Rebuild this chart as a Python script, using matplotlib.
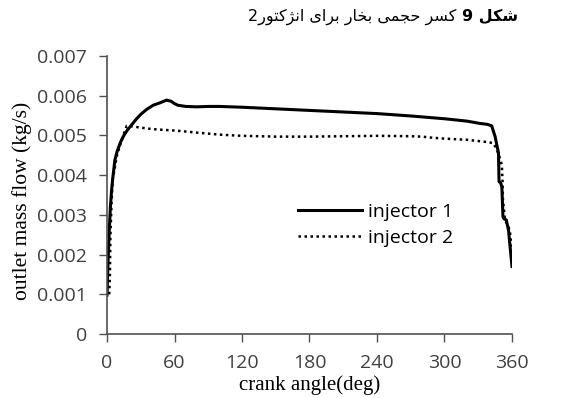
import matplotlib
matplotlib.use("Agg")
import matplotlib.pyplot as plt

# --- data ---
x_inj1 = [0, 1, 2, 3, 4, 5, 7, 9, 12, 15, 18, 22, 26, 30, 35, 41, 47, 53, 57,
          60, 63, 70, 80, 90, 100, 120, 150, 180, 210, 240, 270, 300, 320, 332,
          338, 342, 345, 348, 348.5, 350, 351, 352, 353, 355, 357, 358, 359, 360]
y_inj1 = [0.00098, 0.0019, 0.0026, 0.0032, 0.0036, 0.0039, 0.00438, 0.0046,
          0.00483, 0.00500, 0.00513, 0.00527, 0.00541, 0.00553, 0.00565,
          0.00576, 0.00582, 0.00589, 0.00586, 0.00580, 0.00576, 0.00573,
          0.00572, 0.00573, 0.00573, 0.00571, 0.00567, 0.00563, 0.00559,
          0.00555, 0.00549, 0.00542, 0.00536, 0.0053, 0.00528, 0.00524, 0.00497,
          0.00456, 0.00384, 0.0038, 0.0037, 0.00295, 0.0029, 0.00287, 0.0026,
          0.00229, 0.0020, 0.0017]

x_inj2 = [2, 2.6, 3, 4, 5, 7, 8.6, 11, 13, 15, 17.5, 22, 29, 40, 50, 62, 80,
          100, 120, 150, 180, 210, 240, 270, 280, 290, 300, 320, 336, 343, 346,
          349, 351, 351.6, 352, 353.8, 356, 358, 360]
y_inj2 = [0.0010, 0.00153, 0.00245, 0.0033, 0.00388, 0.0042, 0.00447, 0.0047,
          0.00489, 0.00505, 0.00524, 0.00523, 0.0052, 0.00516, 0.00514, 0.00512,
          0.00507, 0.00502, 0.00499, 0.00497, 0.00497, 0.00498, 0.00499,
          0.00498, 0.00497, 0.00494, 0.00492, 0.00489, 0.00484, 0.00481,
          0.00468, 0.00445, 0.00425, 0.00384, 0.00337, 0.00287, 0.00275,
          0.00262, 0.0021]

x_ticks = [0, 60, 120, 180, 240, 300, 360]
y_ticks = [0, 0.001, 0.002, 0.003, 0.004, 0.005, 0.006, 0.007]
y_tick_labels = ["0", "0.001", "0.002", "0.003", "0.004", "0.005", "0.006", "0.007"]

title_bold = "شکل 9"
title_rest = "کسر حجمی بخار برای انژکتور2"


# simple arabic/persian shaping (matplotlib has no text shaping)
# letter: (isolated, final, initial, medial)
FORMS = {
    "ا": ("\uFE8D", "\uFE8E", None, None),
    "ب": ("\uFE8F", "\uFE90", "\uFE91", "\uFE92"),
    "ت": ("\uFE95", "\uFE96", "\uFE97", "\uFE98"),
    "ج": ("\uFE9D", "\uFE9E", "\uFE9F", "\uFEA0"),
    "ح": ("\uFEA1", "\uFEA2", "\uFEA3", "\uFEA4"),
    "خ": ("\uFEA5", "\uFEA6", "\uFEA7", "\uFEA8"),
    "ر": ("\uFEAD", "\uFEAE", None, None),
    "ژ": ("\uFB8A", "\uFB8B", None, None),
    "س": ("\uFEB1", "\uFEB2", "\uFEB3", "\uFEB4"),
    "ش": ("\uFEB5", "\uFEB6", "\uFEB7", "\uFEB8"),
    "ل": ("\uFEDD", "\uFEDE", "\uFEDF", "\uFEE0"),
    "م": ("\uFEE1", "\uFEE2", "\uFEE3", "\uFEE4"),
    "ن": ("\uFEE5", "\uFEE6", "\uFEE7", "\uFEE8"),
    "و": ("\uFEED", "\uFEEE", None, None),
    "ک": ("\uFB8E", "\uFB8F", "\uFB90", "\uFB91"),
    "ی": ("\uFBFC", "\uFBFD", "\uFBFE", "\uFBFF"),
}


def shape(s):
    out = []
    for i, c in enumerate(s):
        if c not in FORMS:
            out.append(c)
            continue
        prev = s[i - 1] if i > 0 else None
        nxt = s[i + 1] if i + 1 < len(s) else None
        jp = prev in FORMS and FORMS[prev][2] is not None
        jn = FORMS[c][2] is not None and nxt in FORMS
        if jp and jn:
            out.append(FORMS[c][3])
        elif jp:
            out.append(FORMS[c][1])
        elif jn:
            out.append(FORMS[c][2])
        else:
            out.append(FORMS[c][0])
    return "".join(out)[::-1]


tick_font = "Open Sans"
serif_font = "Liberation Serif"
grey = "#404040"

fig = plt.figure(figsize=(5.81, 3.98), dpi=100)
ax = fig.add_axes([0.1842, 0.1608, 0.697, 0.6985])

ax.plot(x_inj1, y_inj1, color="black", lw=2.2, label="injector 1",
        solid_joinstyle="round")
ax.plot(x_inj2, y_inj2, color="black", lw=1.8, linestyle=(0, (1, 1.4)),
        label="injector 2")

ax.set_xlim(0, 360)
ax.set_ylim(0, 0.007)
ax.set_xticks(x_ticks)
ax.set_xticklabels([str(v) for v in x_ticks], fontfamily=tick_font, fontsize=14, color=grey)
ax.set_yticks(y_ticks)
ax.set_yticklabels(y_tick_labels, fontfamily=tick_font, fontsize=14, color=grey)
ax.tick_params(axis="both", direction="out", length=5.5, width=1, color="#505050")
ax.tick_params(axis="y", pad=9)
ax.tick_params(axis="x", pad=9)

for side in ["top", "right"]:
    ax.spines[side].set_visible(False)
for side in ["left", "bottom"]:
    ax.spines[side].set_color("#505050")
    ax.spines[side].set_linewidth(1.2)

ax.set_xlabel("crank angle(deg)", fontfamily=serif_font, fontsize=15)
ax.set_ylabel("outlet mass flow (kg/s)", fontfamily=serif_font, fontsize=15.5)
ax.xaxis.set_label_coords(0.501, -0.148)
ax.yaxis.set_label_coords(-0.185, 0.48)

leg = ax.legend(loc="center left", bbox_to_anchor=(0.4716, 0.392), frameon=False,
                prop={"family": tick_font, "size": 14}, handlelength=3.3,
                handletextpad=0.3, borderpad=0, borderaxespad=0, labelspacing=0.4)

# title above the chart, right-to-left
t_bold = fig.text(518 / 581, 1 - 17 / 398, shape(title_bold), ha="right", va="center",
                  fontfamily="DejaVu Sans", fontweight="bold", fontsize=11.5)
ax.annotate(shape(title_rest), xy=(0, 0.5), xycoords=t_bold, xytext=(-4, 0),
            textcoords="offset points", ha="right", va="center",
            fontfamily="DejaVu Sans", fontsize=11.5, annotation_clip=False)

fig.savefig("out.png", dpi=100)
